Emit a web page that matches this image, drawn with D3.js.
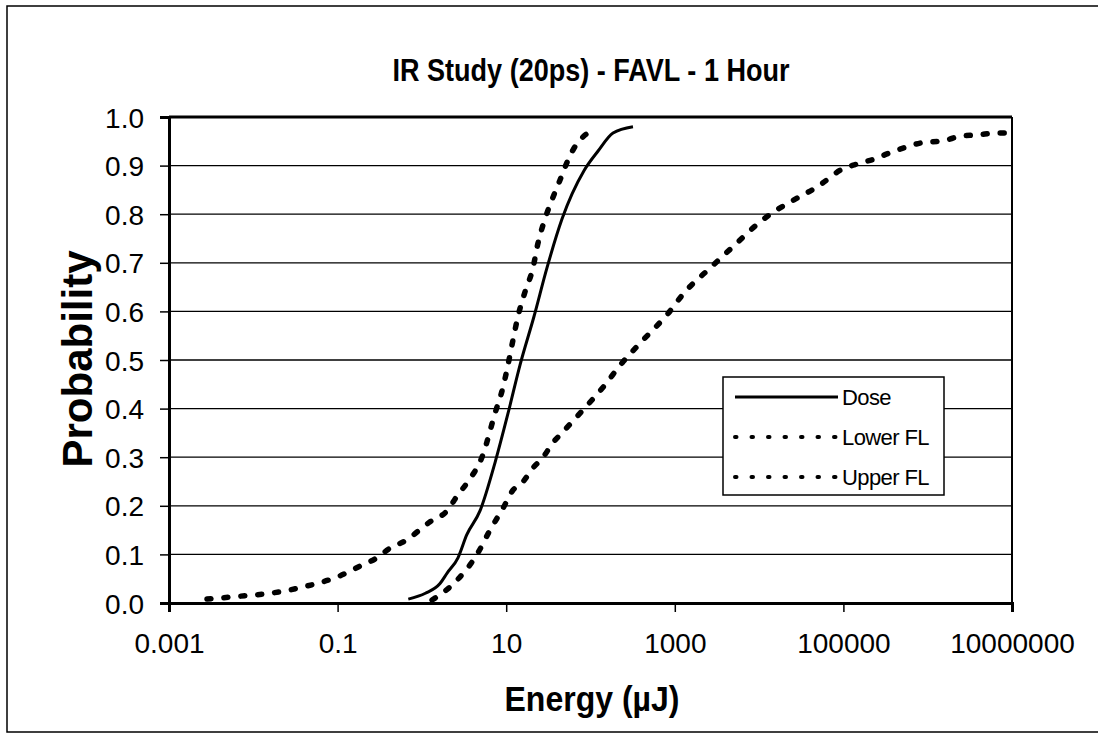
<!DOCTYPE html>
<html><head><meta charset="utf-8">
<script src="https://cdn.jsdelivr.net/npm/d3@7"></script>
<style>body{margin:0;background:#fff}svg{display:block}text{font-family:"Liberation Sans",Arial,sans-serif;fill:#000}</style>
</head><body><svg id="c" width="1098" height="735"></svg>
<script>
// Data (energy in µJ, cumulative probability)
const doseE = [0.69, 1.1, 1.64, 2.0, 2.68, 3.4, 4.9, 7.4, 10.5, 14.6, 21.4, 30.5, 45.9, 84, 123, 185, 319];
const doseP = [0.008, 0.02, 0.04, 0.062, 0.093, 0.14, 0.19, 0.29, 0.39, 0.49, 0.59, 0.69, 0.79, 0.89, 0.93, 0.967, 0.98];
const lowerE = [0.00282, 0.00695, 0.0158, 0.0389, 0.107, 0.185, 0.293, 0.419, 0.665, 0.875, 1.25, 1.99, 2.61, 3.52, 5.16, 7.36, 9.16, 10.5, 12.0, 13.8, 16.7, 20.8, 23.8, 28.8, 35.9, 43.4, 49.9, 61.9, 81.5, 113];
const lowerP = [0.008, 0.014, 0.02, 0.033, 0.056, 0.076, 0.093, 0.113, 0.13, 0.146, 0.167, 0.19, 0.22, 0.25, 0.30, 0.39, 0.444, 0.49, 0.54, 0.59, 0.64, 0.69, 0.74, 0.79, 0.835, 0.87, 0.897, 0.932, 0.959, 0.975];
const upperE = [1.32, 2.61, 4.51, 6.43, 9.16, 12.0, 15.4, 20.8, 27.4, 35.9, 45.9, 79.3, 141, 237, 420, 807, 1318, 2612, 5176, 10233, 16293, 28184, 48641, 97724, 157398, 237137, 328852, 509331, 851138, 1513561, 2552701, 3845918, 6637431, 11481536];
const upperP = [0.006, 0.047, 0.10, 0.15, 0.195, 0.232, 0.247, 0.278, 0.30, 0.33, 0.35, 0.395, 0.444, 0.494, 0.541, 0.593, 0.64, 0.689, 0.737, 0.784, 0.809, 0.833, 0.856, 0.893, 0.905, 0.914, 0.924, 0.936, 0.947, 0.951, 0.961, 0.963, 0.967, 0.967];
const xTicks = [0.001, 0.1, 10, 1000, 100000, 10000000];
const xTickLabels = ["0.001", "0.1", "10", "1000", "100000", "10000000"];
const yTicks = [0, 0.1, 0.2, 0.3, 0.4, 0.5, 0.6, 0.7, 0.8, 0.9, 1.0];
const seriesNames = ["Dose", "Lower FL", "Upper FL"];
const titleText = "IR Study (20ps) - FAVL - 1 Hour";
const xTitle = "Energy (\u00B5J)";
const yTitle = "Probability";

const svg = d3.select("#c");
const L = 169, R = 1012, T = 117, B = 603;
const x = d3.scaleLog().domain([0.001, 1e7]).range([L, R]);
const y = d3.scaleLinear().domain([0, 1]).range([B, T]);

// outer frame
svg.append("path").attr("d", "M1099,6 H7 V732 H1099").attr("fill", "none").attr("stroke", "#000").attr("stroke-width", 1.5);

// gridlines
svg.append("g").selectAll("line").data(yTicks.slice(1)).join("line")
  .attr("x1", L).attr("x2", R).attr("y1", d => y(d)).attr("y2", d => y(d))
  .attr("stroke", "#000").attr("stroke-width", d => d === 1 ? 3 : 1.3);
// right border
svg.append("line").attr("x1", R).attr("x2", R).attr("y1", T).attr("y2", B).attr("stroke", "#000").attr("stroke-width", 2);

// axes
const yAxis = d3.axisLeft(y).tickValues(yTicks).tickFormat(d3.format(".1f")).tickSize(9).tickPadding(16);
const gy = svg.append("g").attr("transform", `translate(${L},0)`).call(yAxis);
gy.select(".domain").attr("stroke-width", 3);
gy.selectAll(".tick line").attr("stroke-width", 1.5);
gy.selectAll("text").style("font-size", "28px").attr("dy", "0.36em");

const xAxis = d3.axisBottom(x).tickValues(xTicks).tickFormat((d, i) => xTickLabels[i]).tickSize(9).tickPadding(21);
const gx = svg.append("g").attr("transform", `translate(0,${B})`).call(xAxis);
gx.select(".domain").attr("stroke-width", 3);
gx.selectAll(".tick line").attr("stroke-width", 1.5);
gx.selectAll("text").style("font-size", "28px");

// lines
const line = d3.line().x(d => x(d[0])).y(d => y(d[1])).curve(d3.curveMonotoneX);
const series = [
  {data: d3.zip(doseE, doseP), dash: null, w: 3},
  {data: d3.zip(lowerE, lowerP), dash: "4,13", w: 5.5},
  {data: d3.zip(upperE, upperP), dash: "4,13", w: 5.5}
];
svg.append("g").selectAll("path").data(series).join("path")
  .attr("d", d => line(d.data)).attr("fill", "none").attr("stroke", "#000")
  .attr("stroke-width", d => d.w).attr("stroke-dasharray", d => d.dash)
  .attr("stroke-linecap", d => d.dash ? "round" : "butt");

// legend
const lg = svg.append("g");
lg.append("rect").attr("x", 723).attr("y", 377).attr("width", 221).attr("height", 118)
  .attr("fill", "#fff").attr("stroke", "#000").attr("stroke-width", 1.5);
const ly = [397, 437, 477];
seriesNames.forEach((n, i) => {
  lg.append("line").attr("x1", 735).attr("x2", 838).attr("y1", ly[i]).attr("y2", ly[i])
    .attr("stroke", "#000").attr("stroke-width", i === 0 ? 3 : 4)
    .attr("stroke-dasharray", i === 0 ? null : "1.5,15").attr("stroke-linecap", i === 0 ? "butt" : "round");
  lg.append("text").attr("x", 842).attr("y", ly[i]).attr("dy", "0.36em")
    .style("font-size", "22px").style("letter-spacing", "-0.6px").text(n);
});

// titles
svg.append("text").attr("x", 591).attr("y", 81).attr("text-anchor", "middle")
  .attr("textLength", 397).attr("lengthAdjust", "spacingAndGlyphs")
  .style("font-size", "31px").style("font-weight", "bold").text(titleText);
svg.append("text").attr("x", 592).attr("y", 711).attr("text-anchor", "middle")
  .attr("textLength", 175).attr("lengthAdjust", "spacingAndGlyphs")
  .style("font-size", "35px").style("font-weight", "bold").text(xTitle);
svg.append("text").attr("transform", "translate(92,359) rotate(-90)").attr("text-anchor", "middle")
  .style("font-size", "42px").style("font-weight", "bold").text(yTitle);
</script></body></html>
